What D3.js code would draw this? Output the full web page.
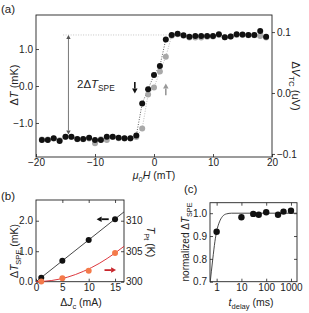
<!DOCTYPE html>
<html>
<head>
<meta charset="utf-8">
<script src="https://cdn.jsdelivr.net/npm/d3@7"></script>
<style>
  body { margin: 0; background: #fff; }
  svg { display: block; }
  text { font-family: "Liberation Sans", Arial, sans-serif; fill: #222; }
</style>
</head>
<body>
<svg id="chart" width="309" height="313"></svg>
<script>
// ---- panel (a) data : field sweep ----
const fieldA = [-19, -18, -17, -16, -15, -14, -13, -12, -11, -10, -9, -8, -7, -6, -5, -4, -3, -2, -1, 0,
  1, 2, 3, 4, 5, 6, 7, 8, 9, 10, 11, 12, 13, 14, 15, 16, 17, 18, 19];
const sweepBlack = [-1.46, -1.46, -1.41, -1.49, -1.37, -1.37, -1.43, -1.43, -1.40, -1.46, -1.46, -1.37, -1.37,
  -1.40, -1.41, -1.41, -1.34, -0.47, -0.09, 0.30, 0.54, 1.26, 1.38, 1.41, 1.37, 1.33, 1.35, 1.35, 1.35,
  1.35, 1.40, 1.32, 1.34, 1.40, 1.39, 1.38, 1.38, 1.49, 1.33];
const sweepGray = [-1.45, -1.45, -1.42, -1.47, -1.38, -1.38, -1.44, -1.44, -1.42, -1.55, -1.44, -1.46, -1.38,
  -1.41, -1.42, -1.42, -1.38, -1.15, -0.23, -0.04, 0.39, 0.79, 1.36, 1.40, 1.36, 1.31, 1.31, 1.31, 1.33,
  1.34, 1.38, 1.32, 1.34, 1.38, 1.38, 1.37, 1.37, 1.35, 1.31];
const xTicksA = [-20, -10, 0, 10, 20];
const yTicksA = [-1, 0, 1];
const vTicksA = [-0.1, 0, 0.1];

// ---- panel (b) data : current dependence ----
const currentB = [1, 5, 10, 15];
const tSpeB = [0.13, 0.69, 1.37, 2.05];
const tPtB = [300.05, 300.55, 301.8, 304.7];
const fitLineB = [[0, 0], [16.7, 2.29]];
const fitPtB = [[0, 300], [3, 300.2], [6, 300.75], [9, 301.7], [12, 303.0], [15, 304.7], [16.7, 305.8]];
const xTicksB = [0, 5, 10, 15];
const yTicksB = [0, 1, 2];
const tTicksB = [300, 305, 310];

// ---- panel (c) data : delay dependence ----
const delayC = [1, 10, 30, 50, 100, 300, 500, 1000];
const normC = [0.919, 0.982, 0.997, 0.993, 1.004, 0.993, 1.007, 1.011];
const fitC = [[0.54, 0.69], [0.7, 0.80], [0.85, 0.875], [1, 0.92], [1.3, 0.962], [1.7, 0.985], [2.5, 0.997],
  [4, 1.0], [1750, 1.0]];
const xTicksC = [1, 10, 100, 1000];
const yTicksC = [0.7, 0.8, 0.9, 1.0];

const svg = d3.select('#chart');
const TICK_FONT = 10;

function richText(sel, parts, size) {
  let sub = false;
  parts.forEach((p) => {
    const ts = sel.append('tspan').text(p.t);
    if (p.i) ts.attr('font-style', 'italic');
    if (p.sub) {
      ts.attr('font-size', size * 0.72);
      if (!sub) ts.attr('dy', size * 0.3);
      sub = true;
    } else if (sub) {
      ts.attr('dy', -size * 0.3);
      sub = false;
    }
  });
  return sel;
}

function label(g, x, y, rot, parts, size, anchor = 'middle') {
  const t = g.append('text')
    .attr('transform', `translate(${x},${y}) rotate(${rot})`)
    .attr('text-anchor', anchor)
    .attr('font-size', size);
  return richText(t, parts, size);
}

function styleAxis(sel) {
  sel.select('.domain').remove();
  sel.selectAll('.tick line').attr('stroke', '#222').attr('stroke-width', 0.8);
  sel.selectAll('.tick text').attr('font-size', TICK_FONT).attr('fill', '#222')
    .style('font-family', '"Liberation Sans", Arial, sans-serif');
}

function frame(g, x, y) {
  const [x0, x1] = x.range();
  const [y0, y1] = y.range();
  g.append('rect')
    .attr('x', x0).attr('y', y1)
    .attr('width', x1 - x0).attr('height', y0 - y1)
    .attr('fill', 'none').attr('stroke', '#222').attr('stroke-width', 0.9);
}

function arrow(g, x1, y1, x2, y2, color, w, head) {
  const ang = Math.atan2(y2 - y1, x2 - x1);
  const bx = x2 - Math.cos(ang) * head;
  const by = y2 - Math.sin(ang) * head;
  g.append('line')
    .attr('x1', x1).attr('y1', y1).attr('x2', bx).attr('y2', by)
    .attr('stroke', color).attr('stroke-width', w);
  const px = Math.sin(ang) * head * 0.55;
  const py = -Math.cos(ang) * head * 0.55;
  g.append('polygon')
    .attr('points', `${x2},${y2} ${bx + px},${by + py} ${bx - px},${by - py}`)
    .attr('fill', color);
}

// ================= panel (a) =================
const gA = svg.append('g');
const xA = d3.scaleLinear([-20, 20], [36, 272]);
const yA = d3.scaleLinear([-1.92, 1.92], [157, 15]);
const vA = d3.scaleLinear([-0.105, 0.128], [157, 15]);

gA.append('g').attr('transform', 'translate(0,157)')
  .call(d3.axisBottom(xA).tickValues(xTicksA).tickSizeInner(-3).tickSizeOuter(0).tickPadding(2))
  .call(styleAxis);
gA.append('g').attr('transform', 'translate(36,0)')
  .call(d3.axisLeft(yA).tickValues(yTicksA).tickSizeInner(-3).tickSizeOuter(0).tickPadding(3))
  .call(styleAxis);
gA.append('g').attr('transform', 'translate(272,0)')
  .call(d3.axisRight(vA).tickValues(vTicksA).tickFormat(d3.format('.1f')).tickSizeInner(3).tickSizeOuter(0).tickPadding(2))
  .call(styleAxis);
frame(gA, xA, yA);

const ptsBlack = fieldA.map((f, i) => [f, sweepBlack[i]]);
const ptsGray = fieldA.map((f, i) => [f, sweepGray[i]]);
const lineA = d3.line().x((d) => xA(d[0])).y((d) => yA(d[1]));

// reference level for the step height
gA.append('line')
  .attr('x1', xA(-15.4)).attr('x2', xA(2.6))
  .attr('y1', yA(1.38)).attr('y2', yA(1.38))
  .attr('stroke', '#b8b8b8').attr('stroke-width', 0.8).attr('stroke-dasharray', '1,1.5');

gA.append('path').datum(ptsGray).attr('d', lineA)
  .attr('fill', 'none').attr('stroke', '#aaa').attr('stroke-width', 0.8).attr('stroke-dasharray', '1,1.5');
gA.append('path').datum(ptsBlack).attr('d', lineA)
  .attr('fill', 'none').attr('stroke', '#333').attr('stroke-width', 0.8).attr('stroke-dasharray', '1,1.5');

gA.selectAll('circle.gray').data(ptsGray).enter().append('circle')
  .attr('class', 'gray')
  .attr('cx', (d) => xA(d[0])).attr('cy', (d) => yA(d[1])).attr('r', 3)
  .attr('fill', '#a9a9a9');
gA.selectAll('circle.black').data(ptsBlack).enter().append('circle')
  .attr('class', 'black')
  .attr('cx', (d) => xA(d[0])).attr('cy', (d) => yA(d[1])).attr('r', 3)
  .attr('fill', '#111');

// double arrow 2ΔT_SPE
const arrX = xA(-14.5);
arrow(gA, arrX, yA(0), arrX, yA(1.38), '#555', 0.8, 4);
arrow(gA, arrX, yA(0), arrX, yA(-1.31), '#555', 0.8, 4);
label(gA, 77, yA(-0.05), 0, [{ t: '2Δ' }, { t: 'T', i: true }, { t: 'SPE', sub: true }], 11.5, 'start');

// sweep direction arrows
arrow(gA, xA(-3.25), yA(0.11), xA(-3.25), yA(-0.2), '#111', 1.6, 5);
arrow(gA, xA(2.0), yA(-0.25), xA(2.0), yA(0.07), '#999', 1.6, 5);

label(gA, 18, 85, -90, [{ t: 'Δ' }, { t: 'T', i: true }, { t: ' (mK)' }], 11);
label(gA, 292, 86, 90, [{ t: 'Δ' }, { t: 'V', i: true }, { t: 'TC', sub: true }, { t: ' (uV)' }], 11);
label(gA, 154, 179, 0, [{ t: 'μ', i: true }, { t: '0', sub: true }, { t: 'H', i: true }, { t: ' (mT)' }], 10.5);
gA.append('text').attr('x', 1).attr('y', 13).attr('font-size', 11.5).text('(a)');

// ================= panel (b) =================
const gB = svg.append('g');
const xB = d3.scaleLinear([0, 16.7], [36, 124]);
const yB = d3.scaleLinear([0, 2.68], [281.7, 200]);
const tB = d3.scaleLinear([300, 313.4], [281.7, 200]);

gB.append('g').attr('transform', 'translate(0,281.7)')
  .call(d3.axisBottom(xB).tickValues(xTicksB).tickSizeInner(-3).tickSizeOuter(0).tickPadding(2))
  .call(styleAxis);
gB.append('g').attr('transform', 'translate(0,200)')
  .call(d3.axisTop(xB).tickValues(xTicksB.slice(1)).tickFormat('').tickSizeInner(-3).tickSizeOuter(0))
  .call(styleAxis);
gB.append('g').attr('transform', 'translate(36,0)')
  .call(d3.axisLeft(yB).tickValues(yTicksB).tickSizeInner(-3).tickSizeOuter(0).tickPadding(3))
  .call(styleAxis);
gB.append('g').attr('transform', 'translate(124,0)')
  .call(d3.axisRight(tB).tickValues(tTicksB).tickSizeInner(-3).tickSizeOuter(0).tickPadding(2))
  .call(styleAxis);
frame(gB, xB, yB);

gB.append('path').datum(fitLineB)
  .attr('d', d3.line().x((d) => xB(d[0])).y((d) => yB(d[1])))
  .attr('fill', 'none').attr('stroke', '#333').attr('stroke-width', 0.9);
gB.append('path').datum(fitPtB)
  .attr('d', d3.line().x((d) => xB(d[0])).y((d) => tB(d[1])).curve(d3.curveMonotoneX))
  .attr('fill', 'none').attr('stroke', '#d8232a').attr('stroke-width', 0.9);

gB.selectAll('circle.spe').data(currentB).enter().append('circle')
  .attr('class', 'spe')
  .attr('cx', (d) => xB(d)).attr('cy', (d, i) => yB(tSpeB[i])).attr('r', 3)
  .attr('fill', '#111');
gB.selectAll('circle.pt').data(currentB).enter().append('circle')
  .attr('class', 'pt')
  .attr('cx', (d) => xB(d)).attr('cy', (d, i) => tB(tPtB[i])).attr('r', 3)
  .attr('fill', '#f47a4a');

arrow(gB, xB(13.8), yB(2.05), xB(11.5), yB(2.05), '#111', 1.8, 5);
arrow(gB, xB(13.0), yB(0.38), xB(15.2), yB(0.38), '#c8262c', 1.8, 5);

label(gB, 18, 251, -90, [{ t: 'Δ' }, { t: 'T', i: true }, { t: 'SPE', sub: true }, { t: ' (mK)' }], 10.5);
label(gB, 147, 242, 90, [{ t: 'T', i: true }, { t: 'Pt', sub: true }, { t: '  (K)' }], 10.5);
label(gB, 81, 306, 0, [{ t: 'Δ' }, { t: 'J', i: true }, { t: 'c', sub: true }, { t: ' (mA)' }], 10.5);
gB.append('text').attr('x', 1).attr('y', 200).attr('font-size', 11.5).text('(b)');

// ================= panel (c) =================
const gC = svg.append('g');
const xC = d3.scaleLog([0.54, 1750], [210, 297]);
const yC = d3.scaleLinear([0.7, 1.046], [281.7, 202.7]);

gC.append('g').attr('transform', 'translate(0,281.7)')
  .call(d3.axisBottom(xC).tickValues(xTicksC).tickFormat(d3.format('d')).tickSizeInner(-3).tickSizeOuter(0).tickPadding(2))
  .call(styleAxis);
gC.append('g').attr('transform', 'translate(0,202.7)')
  .call(d3.axisTop(xC).tickValues(xTicksC).tickFormat('').tickSizeInner(-3).tickSizeOuter(0))
  .call(styleAxis);
gC.append('g').attr('transform', 'translate(210,0)')
  .call(d3.axisLeft(yC).tickValues(yTicksC).tickFormat(d3.format('.1f')).tickSizeInner(-3).tickSizeOuter(0).tickPadding(3))
  .call(styleAxis);
gC.append('g').attr('transform', 'translate(297,0)')
  .call(d3.axisRight(yC).tickValues(yTicksC.slice(1)).tickFormat('').tickSizeInner(-3).tickSizeOuter(0))
  .call(styleAxis);
frame(gC, xC, yC);

gC.append('defs').append('clipPath').attr('id', 'clipC')
  .append('rect').attr('x', 210).attr('y', 202.7).attr('width', 87).attr('height', 79);
gC.append('path').datum(fitC)
  .attr('clip-path', 'url(#clipC)')
  .attr('d', d3.line().x((d) => xC(d[0])).y((d) => yC(d[1])).curve(d3.curveMonotoneX))
  .attr('fill', 'none').attr('stroke', '#333').attr('stroke-width', 0.9);

gC.selectAll('circle').data(delayC).enter().append('circle')
  .attr('cx', (d) => xC(d)).attr('cy', (d, i) => yC(normC[i])).attr('r', 3.2)
  .attr('fill', '#111');

label(gC, 189, 242, -90, [{ t: 'normalized Δ' }, { t: 'T', i: true }, { t: 'SPE', sub: true }], 10);
label(gC, 251, 306, 0, [{ t: 't', i: true }, { t: 'delay', sub: true }, { t: ' (ms)' }], 10.5);
gC.append('text').attr('x', 184).attr('y', 193).attr('font-size', 11.5).text('(c)');
</script>
</body>
</html>
